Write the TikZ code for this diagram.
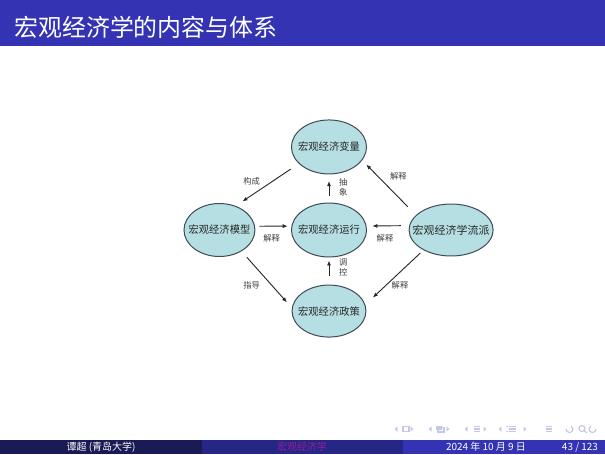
\documentclass[tikz,border=0pt]{standalone}
\usepackage{fontspec}
\setmainfont{Noto Sans CJK SC}
\usetikzlibrary{positioning,arrows.meta,shapes.geometric}
\definecolor{barblue}{RGB}{51,51,179}
\definecolor{barmid}{RGB}{38,38,134}
\definecolor{bardark}{RGB}{26,26,84}
\definecolor{ellfill}{RGB}{182,223,227}
\definecolor{elldraw}{RGB}{62,74,84}
\definecolor{navgray}{RGB}{198,198,232}
\definecolor{shorttitle}{RGB}{150,30,150}
\tikzset{
	macro/.style={>={Latex[length=3pt,width=2.4pt]},x=0.602pt,y=-0.602pt},
	econ/.style={ellipse,draw=elldraw,line width=0.6pt,fill=ellfill,inner sep=0pt,
		minimum width=45.2pt,minimum height=32.5pt,text=black!85,
		font=\fontsize{6.2}{7.4}\selectfont,
		execute at begin node={\hbox to 0pt\bgroup\hss},
		execute at end node={\hss\egroup}},
	tag/.style={font=\fontsize{5}{6}\selectfont,text=black!75,inner sep=0pt,align=center},
	link/.style={->,draw=black!85,line width=0.55pt},
	foot/.style={font=\fontsize{6}{7}\selectfont,text=white,inner sep=0pt},
	nav/.style={fill=navgray,draw=navgray,line width=0.7pt}
}

\begin{document}
\begin{tikzpicture}[macro]
\useasboundingbox (0,0) rectangle (605,454);
\fill[barblue] (0,0) rectangle (605,46);
\node[anchor=west,text=white,font=\fontsize{14.4}{17}\selectfont,inner sep=0pt] (title) at (14,27) {宏观经济学的内容与体系};

\node[econ] (run) at (329,230) {宏观经济运行};
\node[econ] (var) [above=16.9pt of run] {宏观经济变量};
\node[econ,minimum width=44.5pt,minimum height=31.3pt] (pol) [below=16.3pt of run] {宏观经济政策};
\node[econ,minimum width=42.7pt,minimum height=31.9pt] (model) [left=21.4pt of run] {宏观经济模型};
\node[econ,minimum width=50.6pt,minimum height=31.3pt,font=\fontsize{6.6}{7.8}\selectfont] (school) [right=25pt of run] {宏观经济学流派};

\draw[link,shorten <=5.9pt,shorten >=4.9pt] (var.209) -- (model.56);
\draw[link,shorten <=2.6pt,shorten >=2.2pt] (model.6) -- (run.174);
\draw[link,shorten <=3.8pt,shorten >=4pt] (run.north) -- (var.south);
\draw[link,shorten <=7pt,shorten >=3.5pt] (school.157) -- (var.-22);
\draw[link,shorten <=5pt,shorten >=3.4pt] (school.174) -- (run.6);
\draw[link,shorten <=5.4pt,shorten >=1.8pt] (pol.north) -- (run.south);
\draw[link,shorten <=4.8pt,shorten >=4.4pt] (model.-44) -- (pol.175);
\draw[link,shorten <=2.5pt,shorten >=6.2pt] (school.216) -- (pol.10);

\node[tag] (gc) at (251.7,181.7) {构成};
\node[tag] (js1) at (271.7,238.3) {解释};
\node[tag] (cx) at (343.3,187.3) {抽\\象};
\node[tag] (js2) at (398.3,176) {解释};
\node[tag] (js3) at (385,238.3) {解释};
\node[tag] (tk) at (343.3,267.5) {调\\控};
\node[tag] (zd) at (251.7,285) {指导};
\node[tag] (js4) at (400,285) {解释};

\begin{scope}[nav]
\foreach \x in {396,430,466,500} \fill (\x+1.5,426.5) -- (\x-1.5,429) -- (\x+1.5,431.5) -- cycle;
\foreach \x in {412,448,485,525} \fill (\x-1.5,426.5) -- (\x+1.5,429) -- (\x-1.5,431.5) -- cycle;
\draw (403,426.5) rectangle (409,431.5);
\draw (438,427.5) rectangle (444,432);
\fill (436,425.5) rectangle (442,429.5);
\foreach \y in {426.5,429,431.5} {
	\draw (474,\y) -- (480,\y);
	\draw (509,\y) -- (516,\y);
	\draw (546,\y) -- (552,\y);
}
\fill (507,426.5) circle (0.8);
\fill (507,431.5) circle (0.8);
\draw (566,429) arc[start angle=180,end angle=-60,radius=3.5];
\draw (582,428.5) circle (3);
\draw (584,430.5) -- (587,433);
\draw (596,429) arc[start angle=0,end angle=240,radius=3.5];
\end{scope}

\fill[bardark] (0,440) rectangle (202,454);
\fill[barmid] (202,440) rectangle (403,454);
\fill[barblue] (403,440) rectangle (605,454);
\node[foot] (author) at (101,447) {谭超 (青岛大学)};
\node[foot,text=shorttitle] (short) at (302,447) {宏观经济学};
\node[foot] (date) at (486,447) {2024 年 10 月 9 日};
\node[foot] (page) at (580,447) {43 / 123};
\end{tikzpicture}
\end{document}
